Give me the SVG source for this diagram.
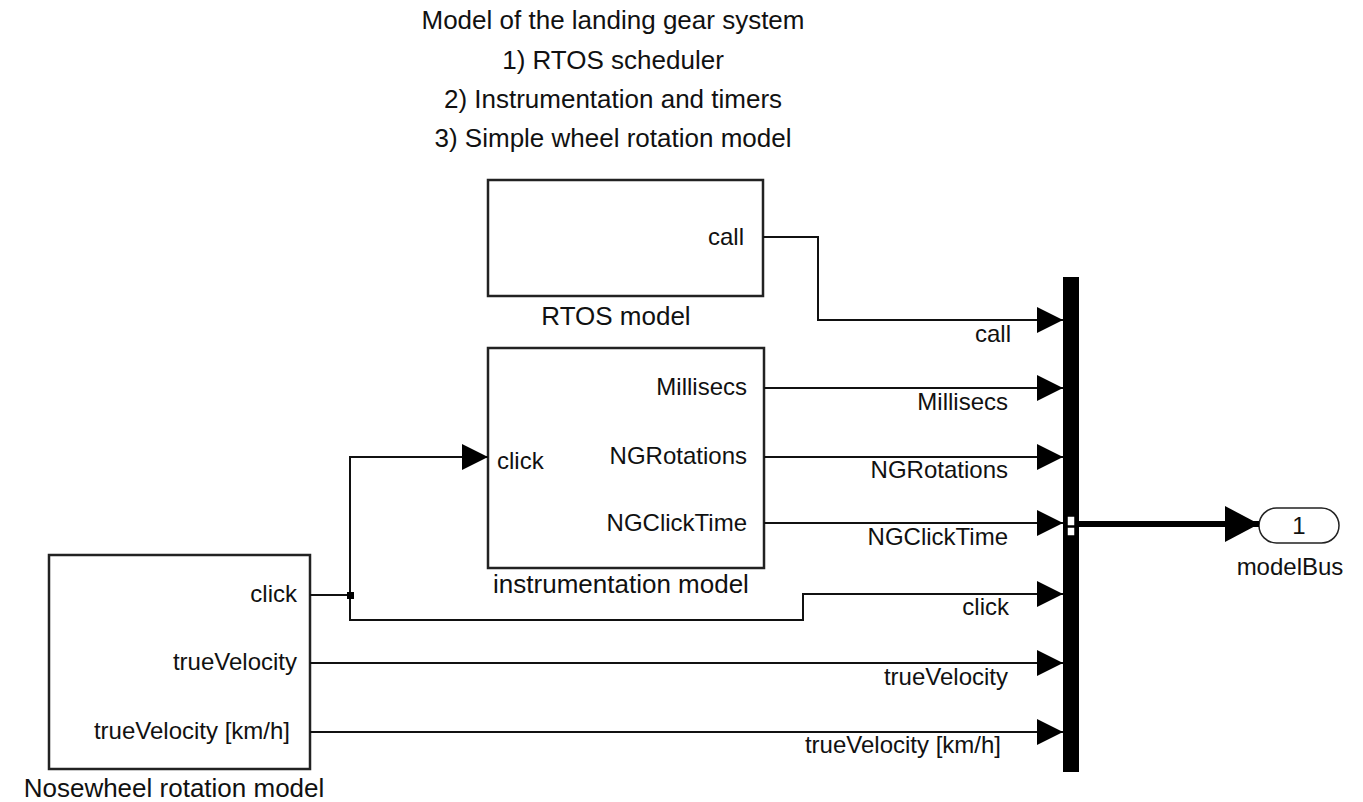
<svg xmlns="http://www.w3.org/2000/svg" width="1363" height="802" viewBox="0 0 1363 802">
<style>
text{font-family:"Liberation Sans",Arial,sans-serif;fill:#111}
.title{font-size:26px;text-anchor:middle}
.bname{font-size:26px;text-anchor:middle}
.port{font-size:24px}
.r{text-anchor:end}
.sig{font-size:24px;text-anchor:end}
.blk{fill:#fff;stroke:#222;stroke-width:2.5}
.wire{fill:none;stroke:#111;stroke-width:2}
</style>
<defs>
<marker id="arr" markerUnits="userSpaceOnUse" viewBox="0 0 26 26" refX="26" refY="13" markerWidth="26" markerHeight="26" orient="auto">
<path d="M0,0 L26,13 L0,26 z" fill="#000"/>
</marker>
<marker id="arrBig" markerUnits="userSpaceOnUse" viewBox="0 0 34 36" refX="34" refY="18" markerWidth="34" markerHeight="36" orient="auto">
<path d="M0,0 L34,18 L0,36 z" fill="#000"/>
</marker>
</defs>
<g id="title">
<text class="title" x="613" y="29">Model of the landing gear system</text>
<text class="title" x="613" y="69">1) RTOS scheduler</text>
<text class="title" x="613" y="108">2) Instrumentation and timers</text>
<text class="title" x="613" y="147">3) Simple wheel rotation model</text>
</g>
<g id="rtos">
<rect class="blk" x="488" y="180" width="275" height="116"/>
<text class="port r" x="744" y="245">call</text>
<text class="bname" x="616" y="325">RTOS model</text>
</g>
<g id="instrumentation">
<rect class="blk" x="488" y="348" width="276" height="220"/>
<text class="port r" x="747" y="395">Millisecs</text>
<text class="port r" x="747" y="464">NGRotations</text>
<text class="port r" x="747" y="531">NGClickTime</text>
<text class="port" x="497" y="469">click</text>
<text class="bname" x="621" y="593">instrumentation model</text>
</g>
<g id="nosewheel">
<rect class="blk" x="49" y="555" width="261" height="214"/>
<text class="port r" x="297" y="602">click</text>
<text class="port r" x="297" y="670">trueVelocity</text>
<text class="port r" x="290" y="739">trueVelocity [km/h]</text>
<text class="bname" x="174" y="797">Nosewheel rotation model</text>
</g>
<g id="busCreator">
<rect x="1063" y="277" width="16" height="495" fill="#000"/>
<rect x="1067" y="516" width="8" height="10" fill="#fff" stroke="#000" stroke-width="1.5"/>
<rect x="1067" y="527" width="8" height="9" fill="#fff" stroke="#000" stroke-width="1.5"/>
</g>
<g id="outport">
<rect x="1259" y="508" width="80" height="35" rx="17.5" fill="#fff" stroke="#222" stroke-width="1.5"/>
<text class="port" x="1299" y="534" text-anchor="middle">1</text>
<text class="port" x="1290" y="575" text-anchor="middle">modelBus</text>
</g>
<g id="connectors">
<path class="wire" d="M763,237 H818 V320 H1063" marker-end="url(#arr)"/>
<path class="wire" d="M764,388 H1063" marker-end="url(#arr)"/>
<path class="wire" d="M764,457 H1063" marker-end="url(#arr)"/>
<path class="wire" d="M764,523 H1063" marker-end="url(#arr)"/>
<path class="wire" d="M310,595 H350 V620 H803 V594 H1063" marker-end="url(#arr)"/>
<path class="wire" d="M350,595 V457 H488" marker-end="url(#arr)"/>
<rect x="347" y="592" width="7" height="7" fill="#000"/>
<path class="wire" d="M310,663 H1063" marker-end="url(#arr)"/>
<path class="wire" d="M310,732 H1063" marker-end="url(#arr)"/>
<path d="M1079,524 H1259" fill="none" stroke="#000" stroke-width="6" marker-end="url(#arrBig)"/>
<text class="sig" x="1011" y="342">call</text>
<text class="sig" x="1008" y="410">Millisecs</text>
<text class="sig" x="1008" y="478">NGRotations</text>
<text class="sig" x="1008" y="545">NGClickTime</text>
<text class="sig" x="1009" y="615">click</text>
<text class="sig" x="1008" y="685">trueVelocity</text>
<text class="sig" x="1001" y="753">trueVelocity [km/h]</text>
</g>
</svg>
